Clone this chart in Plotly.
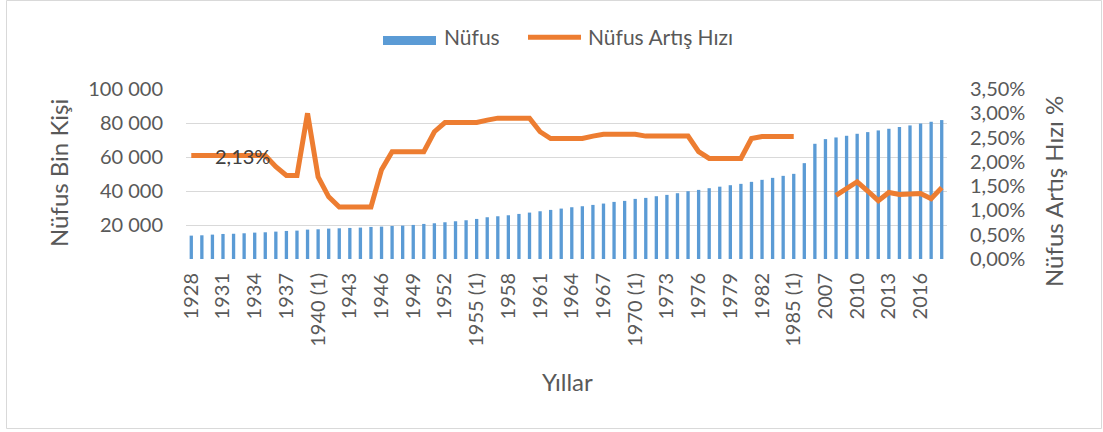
import plotly.graph_objects as go

# ---------------- data ----------------
years = list(range(1928, 1986)) + [1990, 2000] + list(range(2007, 2019))
census_years = {1935, 1940, 1945, 1950, 1955, 1960, 1965, 1970, 1975, 1980, 1985, 1990, 2000}
categories = [f"{y} (1)" if y in census_years else str(y) for y in years]

population = [
    13750, 13950, 14340, 14730, 14850, 15130, 15520, 15720, 16110, 16500,
    16700, 17290, 17480, 17880, 18070, 18270, 18470, 18860, 19050, 19450,
    19640, 20040, 20630, 21020, 21610, 22200, 22790, 23570, 24560, 25140,
    25730, 26520, 27300, 28090, 28880, 29660, 30450, 31040, 31820, 32610,
    33590, 34180, 35360, 35950, 36930, 37720, 38700, 39880, 40660, 41650,
    42550, 43410, 44200, 45380, 46560, 47730, 48910, 50090, 56380, 67770,
    70520, 71500, 72480, 73660, 74640, 75630, 76610, 77590, 78570, 79750,
    80730, 81720,
]

growth_rate = [
    2.13, 2.13, 2.13, 2.13, 2.13, 2.13, 2.13, 2.13, 1.90, 1.72,
    1.72, 3.00, 1.69, 1.28, 1.07, 1.07, 1.07, 1.07, 1.84, 2.21,
    2.21, 2.21, 2.21, 2.62, 2.81, 2.81, 2.81, 2.81, 2.86, 2.90,
    2.90, 2.90, 2.90, 2.62, 2.48, 2.48, 2.48, 2.48, 2.53, 2.57,
    2.57, 2.57, 2.57, 2.53, 2.53, 2.53, 2.53, 2.53, 2.21, 2.07,
    2.07, 2.07, 2.07, 2.48, 2.52, 2.52, 2.52, 2.52, None, None,
    None, 1.31, 1.45, 1.59, 1.40, 1.20, 1.37, 1.33, 1.34, 1.35,
    1.24, 1.47,
]

left_ticks = [0, 20000, 40000, 60000, 80000, 100000]
left_ticktext = ["", "20 000", "40 000", "60 000", "80 000", "100 000"]
label_index = 2  # data label "2,13%"

# ---------------- styling ----------------
W, H = 1103, 432
L, R, T, B = 186, 947, 89, 259  # plot-area pixel box
FONT = "Lato"
GRAY = "#595959"
BLUE = "#5B9BD5"
ORANGE = "#ED7D31"
GRID = "#D9D9D9"


def px(x):
    return (x - L) / (R - L)


def py(y):
    return (B - y) / (B - T)


fig = go.Figure()
fig.add_trace(go.Bar(
    x=categories, y=population, name="Nüfus",
    marker=dict(color=BLUE, line=dict(width=0)),
    yaxis="y", showlegend=False,
))
fig.add_trace(go.Scatter(
    x=categories, y=growth_rate, name="Nüfus Artış Hızı", mode="lines",
    line=dict(color=ORANGE, width=5), connectgaps=False,
    yaxis="y2", showlegend=False,
))

tickcats = categories[::3]

annotations = [
    dict(text="Nüfus Bin Kişi", xref="paper", yref="paper", x=px(58), y=py(173),
         textangle=-90, showarrow=False, xanchor="center", yanchor="middle",
         font=dict(family=FONT, size=24, color=GRAY)),
    dict(text="Nüfus Artış Hızı %", xref="paper", yref="paper", x=px(1053), y=py(192),
         textangle=-90, showarrow=False, xanchor="center", yanchor="middle",
         font=dict(family=FONT, size=24, color=GRAY)),
    dict(text="Yıllar", xref="paper", yref="paper", x=px(567), y=py(381),
         showarrow=False, xanchor="center", yanchor="middle",
         font=dict(family=FONT, size=24, color=GRAY)),
    dict(text=f"{growth_rate[label_index]:.2f}%".replace(".", ","),
         x=label_index, y=growth_rate[label_index], xref="x", yref="y2",
         showarrow=False, xanchor="left", yanchor="middle", xshift=1,
         font=dict(family=FONT, size=20, color="#404040")),
    # legend texts
    dict(text="Nüfus", xref="paper", yref="paper", x=px(442), y=py(37),
         showarrow=False, xanchor="left", yanchor="middle",
         font=dict(family=FONT, size=21, color=GRAY)),
    dict(text="Nüfus Artış Hızı", xref="paper", yref="paper", x=px(586), y=py(37),
         showarrow=False, xanchor="left", yanchor="middle",
         font=dict(family=FONT, size=21, color=GRAY)),
]

shapes = [
    # chart-area border
    dict(type="rect", xref="paper", yref="paper", x0=px(6.5), x1=px(1101.5),
         y0=py(428.5), y1=py(0.5), line=dict(color=GRID, width=1), layer="below"),
    # legend symbols
    dict(type="rect", xref="paper", yref="paper", x0=px(383), x1=px(436),
         y0=py(45), y1=py(36), line=dict(width=0), fillcolor=BLUE),
    dict(type="line", xref="paper", yref="paper", x0=px(528), x1=px(581),
         y0=py(37.3), y1=py(37.3), line=dict(color=ORANGE, width=5)),
]

fig.update_layout(
    width=W, height=H,
    margin=dict(l=L, r=W - R, t=T, b=H - B, pad=0),
    paper_bgcolor="white", plot_bgcolor="white",
    separators=", ",
    bargap=0.686,
    font=dict(family=FONT, size=20, color=GRAY),
    xaxis=dict(
        type="category", categoryorder="array", categoryarray=categories,
        tickmode="array", tickvals=tickcats, ticktext=tickcats,
        tickangle=-90, tickfont=dict(family=FONT, size=20, color=GRAY),
        showgrid=False, showline=False, ticks="", ticklabelstandoff=9,
        range=[-0.5, len(categories) - 0.5], fixedrange=True,
    ),
    yaxis=dict(
        range=[0, 100000], tickmode="array", tickvals=left_ticks, ticktext=left_ticktext,
        showgrid=True, gridcolor=GRID, gridwidth=1.3, zeroline=False,
        showline=False, ticks="", ticklabelstandoff=22,
        tickfont=dict(family=FONT, size=20, color=GRAY),
    ),
    yaxis2=dict(
        range=[0, 3.5], dtick=0.5, tick0=0, tickformat=".2f", ticksuffix="%",
        overlaying="y", side="right", showgrid=False, zeroline=False,
        showline=False, ticks="", ticklabelstandoff=22,
        tickfont=dict(family=FONT, size=20, color=GRAY),
    ),
    annotations=annotations,
    shapes=shapes,
    showlegend=False,
)

fig.write_html(
    "out.html",
    config={"displayModeBar": False},
    post_script="document.body.style.margin='0';document.body.style.overflow='hidden';",
)
